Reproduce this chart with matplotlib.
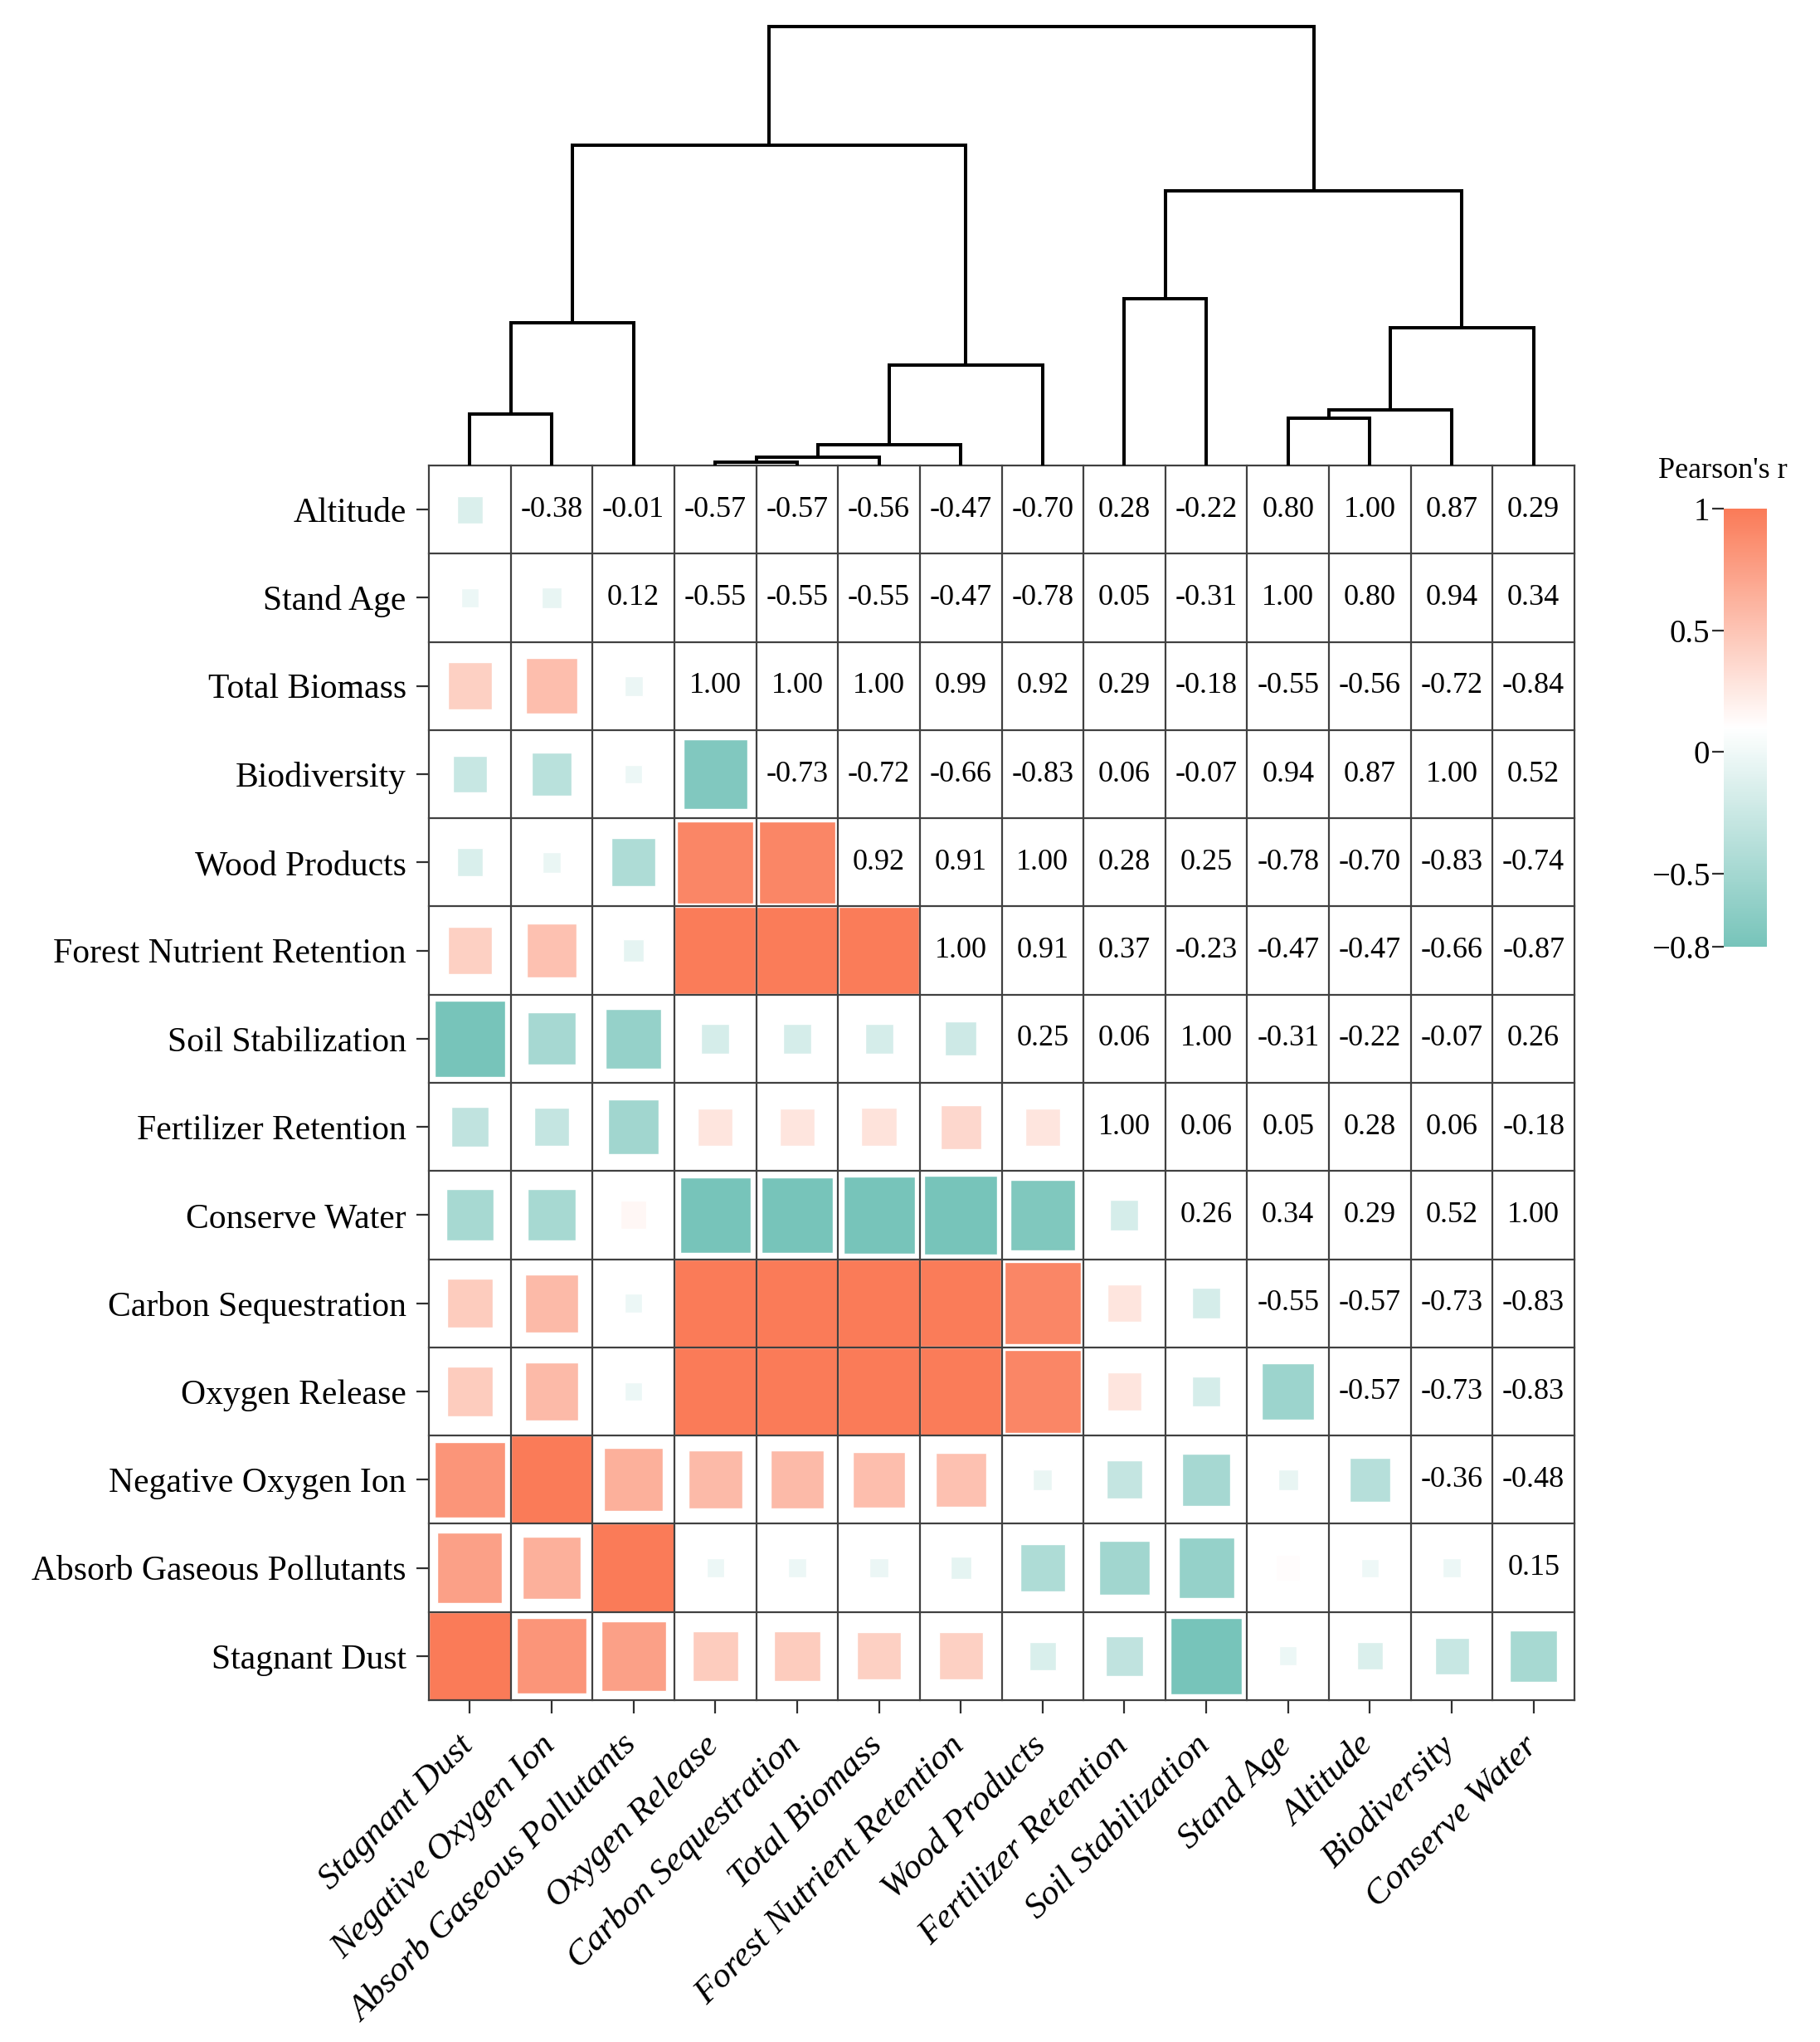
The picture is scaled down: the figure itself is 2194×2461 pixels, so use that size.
import numpy as np
import matplotlib
matplotlib.use("Agg")
import matplotlib.pyplot as plt
from matplotlib.patches import Rectangle
from matplotlib.colors import LinearSegmentedColormap, Normalize
from matplotlib.cm import ScalarMappable
from matplotlib.ticker import FixedLocator, FixedFormatter
import matplotlib.transforms as mtransforms

plt.rcParams['font.family'] = ['Liberation Serif', 'DejaVu Serif']

# ---------------- data ----------------
# column (and variable) order
col_vars = ["Stagnant Dust", "Negative Oxygen Ion", "Absorb Gaseous Pollutants",
            "Oxygen Release", "Carbon Sequestration", "Total Biomass",
            "Forest Nutrient Retention", "Wood Products", "Fertilizer Retention",
            "Soil Stabilization", "Stand Age", "Altitude", "Biodiversity", "Conserve Water"]
# row order (top to bottom)
row_vars = ["Altitude", "Stand Age", "Total Biomass", "Biodiversity", "Wood Products",
            "Forest Nutrient Retention", "Soil Stabilization", "Fertilizer Retention",
            "Conserve Water", "Carbon Sequestration", "Oxygen Release",
            "Negative Oxygen Ion", "Absorb Gaseous Pollutants", "Stagnant Dust"]

# Pearson's r of each variable with the variables in col_vars order
r_stagnant_dust   = [1.00, 0.82, 0.74, 0.45, 0.45, 0.42, 0.42, -0.15, -0.32, -0.83, -0.02, -0.14, -0.27, -0.48]
r_neg_oxygen_ion  = [0.82, 1.00, 0.64, 0.57, 0.57, 0.54, 0.52, -0.04, -0.29, -0.49, -0.05, -0.38, -0.36, -0.48]
r_absorb_gas      = [0.74, 0.64, 1.00, -0.02, -0.02, -0.03, -0.07, -0.43, -0.52, -0.60, 0.12, -0.01, -0.02, 0.15]
r_oxygen_release  = [0.45, 0.57, -0.02, 1.00, 1.00, 1.00, 0.99, 0.92, 0.28, -0.18, -0.55, -0.57, -0.73, -0.83]
r_carbon_seq      = [0.45, 0.57, -0.02, 1.00, 1.00, 1.00, 0.99, 0.92, 0.28, -0.18, -0.55, -0.57, -0.73, -0.83]
r_total_biomass   = [0.42, 0.54, -0.03, 1.00, 1.00, 1.00, 0.99, 0.92, 0.29, -0.18, -0.55, -0.56, -0.72, -0.84]
r_forest_nutrient = [0.42, 0.52, -0.07, 0.99, 0.99, 0.99, 1.00, 0.91, 0.37, -0.23, -0.47, -0.47, -0.66, -0.87]
r_wood_products   = [-0.15, -0.04, -0.43, 0.92, 0.92, 0.92, 0.91, 1.00, 0.28, 0.25, -0.78, -0.70, -0.83, -0.74]
r_fertilizer_ret  = [-0.32, -0.29, -0.52, 0.28, 0.28, 0.29, 0.37, 0.28, 1.00, 0.06, 0.05, 0.28, 0.06, -0.18]
r_soil_stab       = [-0.83, -0.49, -0.60, -0.18, -0.18, -0.18, -0.23, 0.25, 0.06, 1.00, -0.31, -0.22, -0.07, 0.26]
r_stand_age       = [-0.02, -0.05, 0.12, -0.55, -0.55, -0.55, -0.47, -0.78, 0.05, -0.31, 1.00, 0.80, 0.94, 0.34]
r_altitude        = [-0.14, -0.38, -0.01, -0.57, -0.57, -0.56, -0.47, -0.70, 0.28, -0.22, 0.80, 1.00, 0.87, 0.29]
r_biodiversity    = [-0.27, -0.36, -0.02, -0.73, -0.73, -0.72, -0.66, -0.83, 0.06, -0.07, 0.94, 0.87, 1.00, 0.52]
r_conserve_water  = [-0.48, -0.48, 0.15, -0.83, -0.83, -0.84, -0.87, -0.74, -0.18, 0.26, 0.34, 0.29, 0.52, 1.00]

corr_rows = [r_stagnant_dust, r_neg_oxygen_ion, r_absorb_gas, r_oxygen_release,
             r_carbon_seq, r_total_biomass, r_forest_nutrient, r_wood_products,
             r_fertilizer_ret, r_soil_stab, r_stand_age, r_altitude,
             r_biodiversity, r_conserve_water]

# dendrogram merges over columns (leaves 0..13, new nodes numbered from 14)
merge_left   = [3, 14, 15, 16, 0, 18, 19, 8, 10, 22, 23, 21, 20]
merge_right  = [4, 5, 6, 7, 1, 2, 17, 9, 11, 12, 13, 24, 25]
merge_height = [0.036, 0.10, 0.25, 1.21, 0.62, 1.72, 3.86, 2.01, 0.57, 0.67, 1.66, 3.31, 5.30]

cbar_ticks = [-0.8, -0.5, 0, 0.5, 1]
cbar_ticklabels = ["\u22120.8", "\u22120.5", "0", "0.5", "1"]

# ---------------- figure ----------------
W, H = 2194, 2461
fig = plt.figure(figsize=(W / 100, H / 100), dpi=100)


def fx(px):
    return px / W


def fy(py):
    return 1 - py / H


hm_left, hm_right, hm_top, hm_bottom = 517, 1898, 561, 2049
ax = fig.add_axes([fx(hm_left), fy(hm_bottom), (hm_right - hm_left) / W, (hm_bottom - hm_top) / H])

teal = "#77C4BA"
coral = "#FA7B58"
cmap = LinearSegmentedColormap.from_list("pr", [teal, "#FFFFFF", coral])
norm = Normalize(vmin=-0.8, vmax=1.0)

n = len(col_vars)
corr = {v: corr_rows[k] for k, v in enumerate(col_vars)}

for i, rv in enumerate(row_vars):
    for j, cv in enumerate(col_vars):
        v = corr[rv][j]
        if j > i:
            ax.text(j + 0.5, i + 0.5, f"{v:.2f}", ha="center", va="center",
                    fontsize=26, color="black", zorder=4)
        else:
            s = min(1.0, 0.2 + 0.8 * abs(v))
            ax.add_patch(Rectangle((j + 0.5 - s / 2, i + 0.5 - s / 2), s, s,
                                   facecolor=cmap(norm(v)), edgecolor="white",
                                   linewidth=1.0, zorder=2))

grid_color = "#404040"
for k in range(n + 1):
    ax.plot([k, k], [0, n], color=grid_color, lw=1.6, zorder=5, clip_on=False,
            solid_capstyle="projecting")
    ax.plot([0, n], [k, k], color=grid_color, lw=1.6, zorder=5, clip_on=False,
            solid_capstyle="projecting")

ax.set_xlim(0, n)
ax.set_ylim(n, 0)
for sp in ax.spines.values():
    sp.set_visible(False)

ax.set_yticks(np.arange(n) + 0.5)
ax.set_yticklabels(row_vars, fontsize=30)
ax.set_xticks(np.arange(n) + 0.5)
ax.set_xticklabels(col_vars, fontsize=31, rotation=45, ha="right", va="top",
                   style="italic")
ax.tick_params(axis="y", length=11, width=1.6, color="#303030", pad=8.6)
ax.tick_params(axis="x", length=11.5, width=1.6, color="#303030", pad=14)
offset = mtransforms.ScaledTranslation(12 / 100, 0, fig.dpi_scale_trans)
for lbl in ax.get_xticklabels():
    lbl.set_transform(lbl.get_transform() + offset)

# ---------------- dendrogram ----------------
dend_top = 31.5
axd = fig.add_axes([fx(hm_left), fy(hm_top), (hm_right - hm_left) / W, (hm_top - dend_top) / H])
axd.set_xlim(0, n)
axd.set_ylim(0, max(merge_height))
axd.axis("off")

node_x = {k: k + 0.5 for k in range(n)}
node_h = {k: 0.0 for k in range(n)}
for m, (a, b, h) in enumerate(zip(merge_left, merge_right, merge_height)):
    xa, xb = node_x[a], node_x[b]
    ha_, hb_ = node_h[a], node_h[b]
    axd.plot([xa, xa, xb, xb], [ha_, h, h, hb_], color="black", lw=2.9,
             solid_joinstyle="miter", solid_capstyle="butt", clip_on=False)
    node_x[n + m] = (xa + xb) / 2
    node_h[n + m] = h

# ---------------- colorbar ----------------
cax = fig.add_axes([fx(2078), fy(1141), 52 / W, 528 / H])
sm = ScalarMappable(norm=norm, cmap=cmap)
cb = fig.colorbar(sm, cax=cax)
cb.outline.set_visible(False)
cb.locator = FixedLocator(cbar_ticks)
cb.formatter = FixedFormatter(cbar_ticklabels)
cb.update_ticks()
cax.yaxis.set_ticks_position("left")
cax.yaxis.set_label_position("left")
cax.tick_params(axis="y", length=10, width=1.6, color="#303030", pad=2,
                labelsize=28)
fig.text(fx(2077), fy(568), "Pearson's r", ha="center", va="center", fontsize=26)

fig.savefig("out.png", dpi=100, facecolor="white")
